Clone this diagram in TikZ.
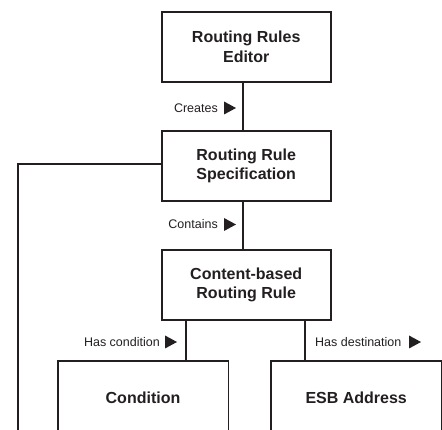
\documentclass[tikz,border=0pt]{standalone}
\usepackage{fontspec}
\setmainfont{Liberation Sans}
\definecolor{ink}{HTML}{231F20}
\begin{document}
\begin{tikzpicture}[x=1pt,y=1pt,
  box/.style={draw=ink, line width=1.7pt, minimum width=169pt, minimum height=70.5pt,
    inner sep=0pt, align=center, text=ink, font=\fontsize{16}{19.5}\selectfont\bfseries},
  leaf/.style={box, draw=none, minimum height=72pt, anchor=north},
  link/.style={draw=ink, line width=1.7pt},
  rel/.style={inner sep=0pt, text=ink, font=\fontsize{12.5}{14}\selectfont},
  marker/.style={fill=ink}]
\useasboundingbox (0,0) rectangle (442,430);

% boxes (y measured upward from the bottom edge)
\node[box] (editor) at (246.2,383) {Routing Rules\\Editor};
\node[box] (spec)   at (246.2,264) {Routing Rule\\Specification};
\node[box] (rule)   at (246.2,145) {Content-based\\Routing Rule};
\node[leaf] (cond)  at (143,69.3) {Condition};
\node[leaf] (esb)   at (356.2,69.3) {ESB Address};
% the two lower boxes run past the bottom edge: only three sides show
\draw[link] (cond.south west) -- (cond.north west) -- (cond.north east) -- (cond.south east);
\draw[link] (esb.south west) -- (esb.north west) -- (esb.north east) -- (esb.south east);

% x positions of the lower connectors, and the free end of the side line
\coordinate (cx) at (186,0);
\coordinate (ex) at (305.3,0);
\coordinate (down) at (18.3,0);

% connectors
\draw[link] ([xshift=-3.5pt]editor.south) -- ([xshift=-3.5pt]spec.north);
\draw[link] ([xshift=-3.5pt]spec.south) -- ([xshift=-3.5pt]rule.north);
\draw[link] (rule.south -| cx) -- (cond.north -| cx);
\draw[link] (rule.south -| ex) -- (esb.north -| ex);
\draw[link] ([yshift=2pt]spec.west) -| (down);

% relation labels with direction markers
\node[rel, anchor=east] (creates) at (218,322) {Creates};
\node[rel, anchor=east] (contains) at (218,205.5) {Contains};
\node[rel, anchor=east] (hascond) at (160,88) {Has condition};
\node[rel, anchor=west] (hasdest) at (315,88) {Has destination};
\fill[marker] (224,328.5) -- (236,322) -- (224,315.5) -- cycle;
\fill[marker] (224,212) -- (236,205.5) -- (224,199) -- cycle;
\fill[marker] (165,94.5) -- (177,88) -- (165,81.5) -- cycle;
\fill[marker] (409,94.5) -- (421,88) -- (409,81.5) -- cycle;
\end{tikzpicture}
\end{document}
